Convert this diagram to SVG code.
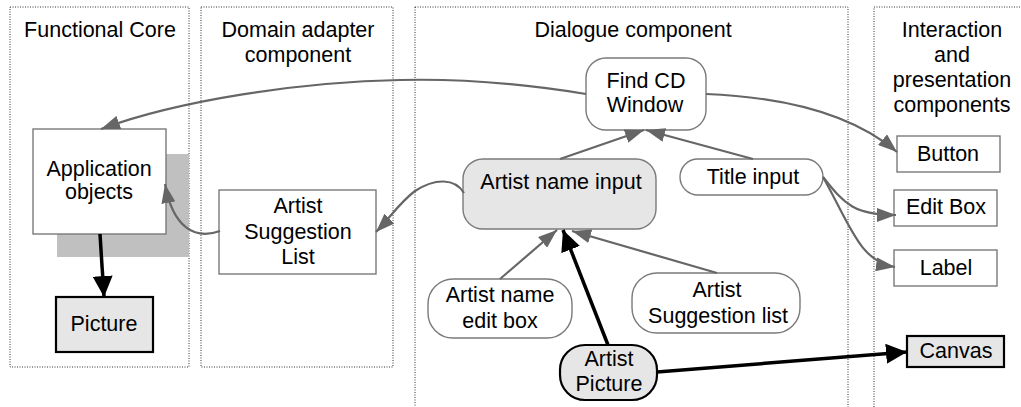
<svg xmlns="http://www.w3.org/2000/svg" width="1021" height="407" viewBox="0 0 1021 407">
<style>
text{font-family:"Liberation Sans",Arial,sans-serif;font-size:21.5px;fill:#000;text-anchor:middle}
.panel{fill:none;stroke:#333;stroke-width:1;stroke-dasharray:1 1.5}
.box{fill:#fff;stroke:#7a7a7a;stroke-width:1.4}
.sel{fill:#e6e6e6;stroke:#7a7a7a;stroke-width:1.4}
.strong{fill:#e6e6e6;stroke:#000;stroke-width:2.2}
.g{fill:none;stroke:#666;stroke-width:2.2}
.b{fill:none;stroke:#000;stroke-width:3.5}
</style>
<defs>
<marker id="ag" markerUnits="userSpaceOnUse" markerWidth="20" markerHeight="14" refX="19" refY="7" orient="auto"><path d="M0,0 L19,7 L0,14 z" fill="#666"/></marker>
<marker id="ab" markerUnits="userSpaceOnUse" markerWidth="22" markerHeight="20" refX="21" refY="10" orient="auto"><path d="M0,0 L21,10 L0,20 z" fill="#000"/></marker>
</defs>
<g id="panels">
<rect class="panel" x="10" y="7" width="179" height="360"/>
<rect class="panel" x="201" y="7" width="192" height="360"/>
<rect class="panel" x="415" y="7" width="433" height="420"/>
<rect class="panel" x="874" y="7" width="160" height="420"/>
<text x="100" y="37">Functional Core</text>
<text x="298" y="37">Domain adapter</text>
<text x="298" y="62">component</text>
<text x="633" y="37">Dialogue component</text>
<text x="952" y="37">Interaction</text>
<text x="952" y="62">and</text>
<text x="952" y="87">presentation</text>
<text x="952" y="112">components</text>
</g>
<rect id="shadow" x="57" y="154" width="132" height="103" fill="#c0c0c0"/>
<g id="app-objects"><rect class="box" x="33" y="129" width="133" height="105"/><text x="99" y="176">Application</text><text x="99" y="199">objects</text></g>
<g id="picture"><rect class="strong" x="56" y="297" width="97" height="55"/><text x="104" y="331">Picture</text></g>
<g id="artist-suggestion-list-domain"><rect class="box" x="219" y="190" width="157" height="84"/><text x="298" y="213">Artist</text><text x="298" y="239">Suggestion</text><text x="298" y="264">List</text></g>
<g id="find-cd-window"><rect class="box" x="586" y="58" width="120" height="72" rx="20"/><text x="646" y="88">Find CD</text><text x="645" y="112">Window</text></g>
<g id="artist-name-input"><rect class="sel" x="463" y="159" width="193" height="70" rx="20"/><text x="561" y="189">Artist name input</text></g>
<g id="title-input"><rect class="box" x="680" y="159" width="143" height="36" rx="18"/><text x="753" y="184">Title input</text></g>
<g id="artist-name-edit-box"><rect class="box" x="428" y="279" width="144" height="59" rx="25"/><text x="500" y="302">Artist name</text><text x="500" y="328">edit box</text></g>
<g id="artist-suggestion-list"><rect class="box" x="632" y="273" width="168" height="60" rx="25"/><text x="717" y="297">Artist</text><text x="718" y="323">Suggestion list</text></g>
<g id="artist-picture"><rect class="strong" x="560" y="345" width="97" height="55" rx="25"/><text x="609" y="366">Artist</text><text x="609" y="391">Picture</text></g>
<g id="button"><rect class="box" x="897" y="136" width="103" height="36"/><text x="948" y="161">Button</text></g>
<g id="edit-box"><rect class="box" x="894" y="190" width="103" height="36"/><text x="946" y="214">Edit Box</text></g>
<g id="label"><rect class="box" x="894" y="250" width="103" height="36"/><text x="946" y="275">Label</text></g>
<g id="canvas"><rect class="strong" x="907" y="336" width="97" height="31"/><text x="956" y="358">Canvas</text></g>
<g id="connectors">
<path class="g" marker-end="url(#ag)" d="M586,94 C500,80 440,79 400,80 C300,82 180,100 101,129"/>
<path class="g" marker-end="url(#ag)" d="M706,94 C780,97 850,112 897,152"/>
<path class="g" marker-end="url(#ag)" d="M560,159 L644,130"/>
<path class="g" marker-end="url(#ag)" d="M753,159 L646,130"/>
<path class="g" marker-end="url(#ag)" d="M464,193 C455,178 435,178 415,191 C400,202 388,220 376,232"/>
<path class="g" marker-end="url(#ag)" d="M220,231 C195,240 173,228 165,184"/>
<path class="g" marker-end="url(#ag)" d="M500,279 L557,230"/>
<path class="g" marker-end="url(#ag)" d="M717,273 L572,231"/>
<path class="g" marker-end="url(#ag)" d="M823,177 C845,205 855,215 896,215"/>
<path class="g" marker-end="url(#ag)" d="M823,177 C850,225 860,262 895,267"/>
<path class="b" marker-end="url(#ab)" d="M608,345 L563,230"/>
<path class="b" marker-end="url(#ab)" d="M657,372 L907,352"/>
<path class="b" marker-end="url(#ab)" d="M100,234 L104,297"/>
</g>
</svg>
